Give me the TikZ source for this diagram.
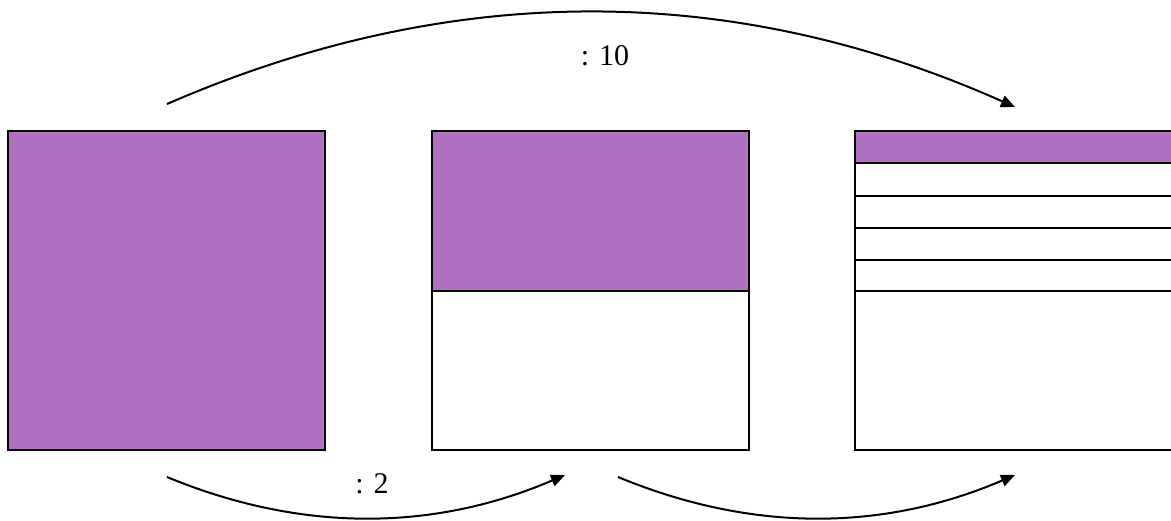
\documentclass[tikz,border=0pt]{standalone}
\usepackage{fontspec}
\setmainfont{Liberation Serif}
\usetikzlibrary{arrows.meta}
\definecolor{fillpurple}{RGB}{176,114,192}
\tikzset{
  box/.style={draw=black, line width=2pt},
  filled/.style={fill=fillpurple},
  divider/.style={draw=black, line width=2pt},
  arc/.style={draw=black, line width=2pt, -{Triangle[length=14pt,width=12pt]}},
  lbl/.style={font=\fontsize{30}{36}\selectfont, inner sep=0pt}
}
\begin{document}
\begin{tikzpicture}[x=1pt,y=-1pt]
\useasboundingbox (0,0) rectangle (1171,520);
\clip (0,0) rectangle (1171,520);
% left square
\path[box,filled] (8,131) rectangle (325,450);
% middle square
\path[filled] (432,131) rectangle (749,291);
\path[box] (432,131) rectangle (749,450);
\draw[divider] (432,291) -- (749,291);
% right square
\path[filled] (855,131) rectangle (1180,163);
\path[box] (855,131) rectangle (1180,450);
\foreach \yy in {163,196,228,260,291} {\draw[divider] (855,\yy) -- (1180,\yy);}
% arrows
\coordinate (a1s) at (167,104);
\coordinate (a1e) at (1015,107);
\coordinate (a2s) at (167,477);
\coordinate (a2e) at (565,475);
\coordinate (a3s) at (618,477);
\coordinate (a3e) at (1015,475);
\draw[arc] (a1s) .. controls (450,-19) and (732,-19) .. (a1e);
\draw[arc] (a2s) .. controls (300,532) and (432,532) .. (a2e);
\draw[arc] (a3s) .. controls (751,532) and (882,532) .. (a3e);
\node[lbl] (l10) at (605,56) {: 10};
\node[lbl] (l2) at (372,484) {: 2};
\end{tikzpicture}
\end{document}
